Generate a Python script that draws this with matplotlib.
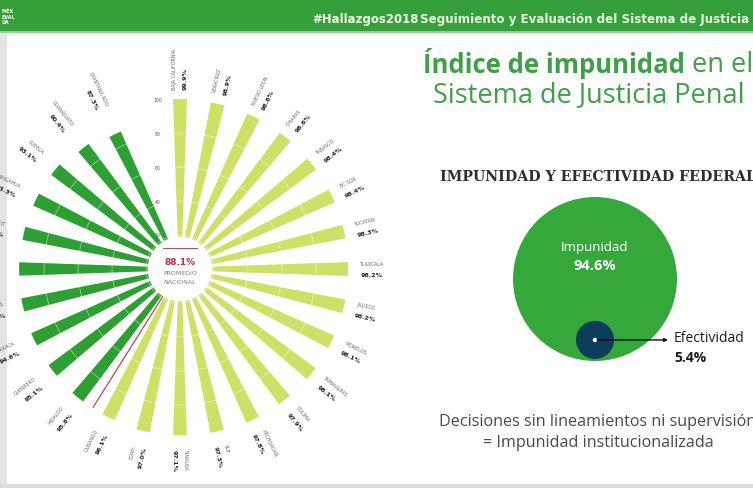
import numpy as np
import matplotlib.pyplot as plt
from matplotlib.patches import Circle, Rectangle
from matplotlib.transforms import offset_copy

# datos (sentido horario desde arriba)
estados = ["BAJA CALIFORNIA", "VERACRUZ", "NUEVO LEÓN", "CHIAPAS", "TABASCO",
           "BC SUR", "YUCATÁN", "TLAXCALA", "JALISCO", "MORELOS", "TAMAULIPAS",
           "COLIMA", "MICHOACÁN", "SLP", "SINALOA", "COAH.", "DURANGO",
           "HIDALGO", "GUERRERO", "OAXACA", "ZACATECAS", "SONORA", "NAYARIT",
           "CHIHUAHUA", "PUEBLA", "GUANAJUATO", "QUINTANA ROO"]
impunidad = [99.9, 98.9, 98.8, 98.6, 98.4, 98.4, 98.3, 98.2, 98.2, 98.1, 98.1,
             97.9, 97.8, 97.3, 97.1, 97.0, 96.1,
             95.8, 95.1, 94.6, 94.2, 93.9, 93.5, 93.3, 93.1, 90.4, 87.3]
grupo = [0] * 17 + [1] * 10
promedio_nacional = 88.1
ticks_r = [20, 40, 60, 80, 100]
impunidad_federal = 94.6
efectividad = 5.4

W, H = 753, 489
fig = plt.figure(figsize=(W / 100, H / 100), dpi=100)

# capa de fondo en pixeles
bg = fig.add_axes([0, 0, 1, 1])
bg.set_xlim(0, W)
bg.set_ylim(H, 0)
bg.axis("off")
bg.add_patch(Rectangle((0, 0), W, 32, color="#35a03a", lw=0))
bg.add_patch(Rectangle((0, 32), W, 2, color="#8fd08f", lw=0))
bg.add_patch(Rectangle((0, 34), 7, H - 34, color="#e4e4e4", lw=0))
bg.add_patch(Rectangle((0, H - 4), W, 4, color="#dcdcdc", lw=0))
bg.text(1, 17, "MÉX\nEVAL\nÚA", color="white", fontsize=3.5, fontweight="bold",
        ha="left", va="center", linespacing=1.1)
bg.text(312, 20, "#Hallazgos2018", color="#f4f8e8", fontsize=8.5,
        fontweight="bold", ha="left", va="center")
bg.text(420, 20, "Seguimiento y Evaluación del Sistema de Justicia Penal",
        color="#e8f4e0", fontsize=8.6, fontweight="bold", ha="left", va="center")

verde_t = "#3f9f47"
t1 = bg.text(423, 73, "Índice de impunidad", color=verde_t, fontsize=18.5,
             fontweight="bold", family="Open Sans", ha="left", va="baseline")
bg.annotate(" en el", xy=(1, 0), xycoords=t1, color=verde_t, fontsize=19.5,
            family="Open Sans", ha="left", va="bottom")
bg.text(433, 102, "Sistema de Justicia Penal", color=verde_t, fontsize=19.5,
        family="Open Sans", ha="left", va="baseline")

bg.text(598, 177, "IMPUNIDAD Y EFECTIVIDAD FEDERAL", color="#2e2e2e",
        fontsize=10.2, fontweight="bold", family="DejaVu Serif",
        ha="center", va="center")

# circulos impunidad / efectividad (radio por area)
cxb, cyb, Rb = 595, 280, 82
rs = Rb * np.sqrt(efectividad / 100)
bg.add_patch(Circle((cxb, cyb), Rb, color="#34a83b", lw=0))
cys = cyb + Rb - rs - 2
bg.add_patch(Circle((cxb, cys), rs, color="#0e3d5c", lw=0))
bg.add_patch(Circle((cxb, cys), 2.2, color="white", lw=0))
bg.annotate("", xy=(668, cys), xytext=(cxb + 2, cys),
            arrowprops=dict(arrowstyle="-|>", color="#111111", lw=1.0,
                            mutation_scale=5, shrinkA=0, shrinkB=0))
bg.text(cxb, 247, "Impunidad", color="white", fontsize=9.5, family="Open Sans",
        ha="center", va="center")
bg.text(cxb, 266, f"{impunidad_federal}%", color="white", fontsize=10.5,
        fontweight="bold", family="Open Sans", ha="center", va="center")
bg.text(674, cys - 2, "Efectividad", color="#1e1e1e", fontsize=10,
        family="Open Sans", ha="left", va="center")
bg.text(674, cys + 17, f"{efectividad}%", color="#1e1e1e", fontsize=10,
        fontweight="bold", family="Open Sans", ha="left", va="center")

bg.text(598, 422, "Decisiones sin lineamientos ni supervisión", color="#4a4a4a",
        fontsize=11.6, family="Open Sans", ha="center", va="center")
bg.text(598, 443, "= Impunidad institucionalizada", color="#4a4a4a",
        fontsize=11.6, family="Open Sans", ha="center", va="center")

# grafica radial
cx, cy, R = 180, 270, 170
ax = fig.add_axes([(cx - R) / W, (H - cy - R) / H, 2 * R / W, 2 * R / H],
                  projection="polar")
ax.set_facecolor("none")
ax.set_theta_zero_location("N")
ax.set_theta_direction(-1)
ax.set_ylim(0, 100)
ax.set_xticks([])
ax.set_yticks([])
ax.grid(False)
ax.spines["polar"].set_visible(False)

n = len(estados)
paso = 2 * np.pi / (n + 1)
theta = np.arange(n) * paso
colores = ["#cfe067" if g == 0 else "#2e9f32" for g in grupo]
ax.bar(theta, impunidad, width=0.068, bottom=0, color=colores,
       edgecolor=colores, lw=1.8, zorder=2)

th = np.linspace(0, 2 * np.pi, 500)
for r in ticks_r[:-1]:
    ax.plot(th, np.full_like(th, r), color="white", lw=0.6, alpha=0.5, zorder=3)

# linea separadora entre grupos
k = grupo.index(1)
th_sep = (theta[k - 1] + theta[k]) / 2
ax.plot([th_sep, th_sep], [0, (impunidad[k - 1] + impunidad[k]) / 2],
        color="#c0474f", lw=0.9, zorder=3)

# disco central
ax.bar(0, 19, width=2 * np.pi, bottom=0, color="white", lw=0, zorder=4)
ax.plot([0.45, 0.55], [0.562, 0.562], transform=ax.transAxes, color="#c0474f",
        lw=0.7, zorder=5)
ax.text(0.5, 0.522, f"{promedio_nacional}%", transform=ax.transAxes,
        color="#b8334b", fontsize=6.5, fontweight="bold", ha="center",
        va="center", zorder=5)
ax.text(0.5, 0.49, "PROMEDIO", transform=ax.transAxes, color="#808080",
        fontsize=4.5, ha="center", va="center", zorder=5)
ax.text(0.5, 0.463, "NACIONAL", transform=ax.transAxes, color="#808080",
        fontsize=4.5, ha="center", va="center", zorder=5)

# ticks del eje
for v in ticks_r:
    ax.text(0, v, f"{v}", transform=offset_copy(ax.transData, fig=fig, x=-22,
            y=0, units="dots"), fontsize=3.3, color="#555555",
            ha="center", va="center")

# etiquetas
r_lab = 106
for t, nombre, val in zip(theta, estados, impunidad):
    deg = np.degrees(t)
    if deg <= 180:
        rot, ha = 90 - deg, "left"
    else:
        rot, ha = 270 - deg, "right"
    ux, uy = -np.sin(np.radians(rot)), np.cos(np.radians(rot))
    d = 5.5
    ax.text(t, r_lab, nombre, rotation=rot, rotation_mode="anchor", ha=ha,
            va="center", fontsize=3.4, color="#666666",
            transform=offset_copy(ax.transData, fig=fig, x=ux * d, y=uy * d,
                                  units="dots"))
    ax.text(t, r_lab, f"{val}%", rotation=rot, rotation_mode="anchor", ha=ha,
            va="center", fontsize=4.6, fontweight="bold", color="#2a2a2a",
            transform=offset_copy(ax.transData, fig=fig, x=-ux * d, y=-uy * d,
                                  units="dots"))

fig.savefig("out.png", dpi=100)
